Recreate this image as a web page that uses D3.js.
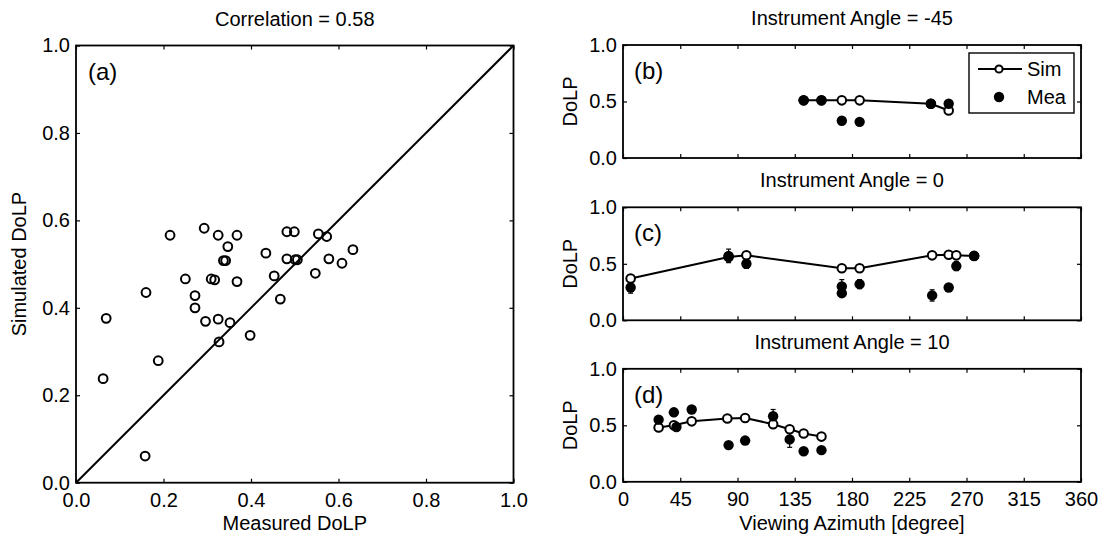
<!DOCTYPE html>
<html>
<head>
<meta charset="utf-8">
<script src="https://cdn.jsdelivr.net/npm/d3@7"></script>
<style>
  body { margin: 0; background: #fff; }
  svg { font-family: "Liberation Sans", Arial, sans-serif; }
</style>
</head>
<body>
<svg id="chart" width="1102" height="534"></svg>
<script>
// scatter (a): measured vs simulated DoLP
var measured = [0.215,0.293,0.325,0.368,0.347,0.337,0.342,0.250,0.309,0.317,0.368,0.160,0.272,0.272,0.069,0.296,0.325,0.352,0.327,0.398,0.434,0.453,0.467,0.482,0.499,0.482,0.501,0.506,0.554,0.573,0.547,0.578,0.608,0.633,0.062,0.188,0.158];
var simulated = [0.566,0.582,0.566,0.566,0.540,0.508,0.508,0.466,0.466,0.464,0.460,0.435,0.428,0.400,0.376,0.369,0.374,0.366,0.322,0.337,0.525,0.473,0.420,0.574,0.574,0.512,0.510,0.510,0.569,0.563,0.479,0.512,0.502,0.533,0.238,0.279,0.061];
var dolpTicks = [0, 0.2, 0.4, 0.6, 0.8, 1.0];

// panels (b)-(d): DoLP vs viewing azimuth
var panelTitles = ["Instrument Angle = -45", "Instrument Angle = 0", "Instrument Angle = 10"];
var panelLetters = ["(b)", "(c)", "(d)"];

var simAzB = [142, 156, 172, 186, 242, 256];
var simB   = [0.51, 0.51, 0.51, 0.51, 0.48, 0.42];
var meaAzB = [142, 156, 172, 186, 242, 256];
var meaB   = [0.51, 0.51, 0.33, 0.32, 0.48, 0.48];
var errB   = [0.01, 0.01, 0.01, 0.01, 0.02, 0.01];

var simAzC = [6, 83, 97, 172, 186, 243, 256, 262, 276];
var simC   = [0.37, 0.56, 0.575, 0.46, 0.46, 0.575, 0.58, 0.575, 0.57];
var meaAzC = [6, 83, 97, 172, 172, 186, 243, 256, 262, 276];
var meaC   = [0.29, 0.57, 0.50, 0.30, 0.24, 0.32, 0.22, 0.29, 0.48, 0.57];
var errC   = [0.05, 0.06, 0.04, 0.06, 0.03, 0.04, 0.05, 0.02, 0.04, 0.02];

var simAzD = [28, 40, 54, 82, 96, 118, 131, 142, 156];
var simD   = [0.48, 0.50, 0.535, 0.56, 0.565, 0.51, 0.465, 0.427, 0.40];
var meaAzD = [28, 40, 42, 54, 83, 96, 118, 131, 142, 156];
var meaD   = [0.55, 0.615, 0.485, 0.64, 0.325, 0.365, 0.58, 0.375, 0.27, 0.28];
var errD   = [0.02, 0.02, 0.03, 0.02, 0.02, 0.02, 0.06, 0.07, 0.02, 0.02];

var azTicks = [0, 45, 90, 135, 180, 225, 270, 315, 360];
var panelYTicks = [0, 0.5, 1.0];

var svg = d3.select("#chart");
var fs = 20;

function styleAxis(g) {
  g.select(".domain").remove();
  g.selectAll("line").attr("stroke", "#000").attr("stroke-width", 1.2);
  g.selectAll("text").attr("font-size", fs).attr("font-family", null).attr("fill", "#000");
  g.attr("font-family", null);
}

function box(g, w, h) {
  g.append("rect").attr("x", 0).attr("y", 0).attr("width", w).attr("height", h)
    .attr("fill", "none").attr("stroke", "#000").attr("stroke-width", 1.8);
}

// ---------- panel (a) ----------
var aL = 76, aT = 45.5, aW = 437.5, aH = 437.2;
var ax = d3.scaleLinear().domain([0, 1]).range([0, aW]);
var ay = d3.scaleLinear().domain([0, 1]).range([aH, 0]);
var ga = svg.append("g").attr("transform", "translate(" + aL + "," + aT + ")");

ga.append("g").attr("transform", "translate(0," + aH + ")")
  .call(d3.axisBottom(ax).tickValues(dolpTicks).tickFormat(d3.format(".1f")).tickSizeInner(-4).tickSizeOuter(0).tickPadding(10))
  .call(styleAxis);
ga.append("g")
  .call(d3.axisLeft(ay).tickValues(dolpTicks).tickFormat(d3.format(".1f")).tickSizeInner(-4).tickSizeOuter(0).tickPadding(6))
  .call(styleAxis);
ga.append("g")
  .call(d3.axisTop(ax).tickValues(dolpTicks).tickFormat("").tickSizeInner(-4).tickSizeOuter(0))
  .call(styleAxis);
ga.append("g").attr("transform", "translate(" + aW + ",0)")
  .call(d3.axisRight(ay).tickValues(dolpTicks).tickFormat("").tickSizeInner(-4).tickSizeOuter(0))
  .call(styleAxis);

ga.append("line")
  .attr("x1", ax(0)).attr("y1", ay(0)).attr("x2", ax(1)).attr("y2", ay(1))
  .attr("stroke", "#000").attr("stroke-width", 2);

ga.selectAll("circle.pt").data(d3.range(measured.length)).enter()
  .append("circle").attr("class", "pt")
  .attr("cx", function(i) { return ax(measured[i]); })
  .attr("cy", function(i) { return ay(simulated[i]); })
  .attr("r", 4.4)
  .attr("fill", "none").attr("stroke", "#000").attr("stroke-width", 2);

box(ga, aW, aH);

ga.append("text").attr("x", aW / 2).attr("y", -20).attr("text-anchor", "middle")
  .attr("font-size", fs).text("Correlation = 0.58");
ga.append("text").attr("x", 12).attr("y", 34).attr("font-size", 24).text("(a)");
ga.append("text").attr("x", aW / 2).attr("y", 483 - aT + 47).attr("text-anchor", "middle")
  .attr("font-size", fs).text("Measured DoLP");
svg.append("text").attr("transform", "translate(26," + (aT + aH / 2) + ") rotate(-90)")
  .attr("text-anchor", "middle").attr("font-size", fs).text("Simulated DoLP");

// ---------- panels (b)-(d) ----------
var pL = 623, pW = 458;
var panelTops = [45, 207.3, 368.8];
var pH = 113;
var px = d3.scaleLinear().domain([0, 360]).range([0, pW]);

var panels = [
  { simAz: simAzB, sim: simB, meaAz: meaAzB, mea: meaB, err: errB },
  { simAz: simAzC, sim: simC, meaAz: meaAzC, mea: meaC, err: errC },
  { simAz: simAzD, sim: simD, meaAz: meaAzD, mea: meaD, err: errD }
];

panels.forEach(function(p, k) {
  var py = d3.scaleLinear().domain([0, 1]).range([pH, 0]);
  var g = svg.append("g").attr("transform", "translate(" + pL + "," + panelTops[k] + ")");

  var bottom = d3.axisBottom(px).tickValues(azTicks).tickSizeInner(-4).tickSizeOuter(0).tickPadding(10);
  if (k < 2) bottom.tickFormat("");
  g.append("g").attr("transform", "translate(0," + pH + ")").call(bottom).call(styleAxis);
  g.append("g")
    .call(d3.axisLeft(py).tickValues(panelYTicks).tickFormat(d3.format(".1f")).tickSizeInner(-4).tickSizeOuter(0).tickPadding(6))
    .call(styleAxis);
  g.append("g")
    .call(d3.axisTop(px).tickValues(azTicks).tickFormat("").tickSizeInner(-4).tickSizeOuter(0))
    .call(styleAxis);
  g.append("g").attr("transform", "translate(" + pW + ",0)")
    .call(d3.axisRight(py).tickValues(panelYTicks).tickFormat("").tickSizeInner(-4).tickSizeOuter(0))
    .call(styleAxis);

  // error bars
  var eb = g.append("g").attr("stroke", "#000").attr("stroke-width", 1.2);
  p.meaAz.forEach(function(a, i) {
    var x = px(a), y0 = py(p.mea[i] - p.err[i]), y1 = py(p.mea[i] + p.err[i]);
    eb.append("line").attr("x1", x).attr("x2", x).attr("y1", y0).attr("y2", y1);
    eb.append("line").attr("x1", x - 2.5).attr("x2", x + 2.5).attr("y1", y0).attr("y2", y0);
    eb.append("line").attr("x1", x - 2.5).attr("x2", x + 2.5).attr("y1", y1).attr("y2", y1);
  });

  var line = d3.line()
    .x(function(i) { return px(p.simAz[i]); })
    .y(function(i) { return py(p.sim[i]); });
  g.append("path").datum(d3.range(p.simAz.length)).attr("d", line)
    .attr("fill", "none").attr("stroke", "#000").attr("stroke-width", 2);

  g.selectAll("circle.sim").data(d3.range(p.simAz.length)).enter()
    .append("circle").attr("class", "sim")
    .attr("cx", function(i) { return px(p.simAz[i]); })
    .attr("cy", function(i) { return py(p.sim[i]); })
    .attr("r", 4.3).attr("fill", "#fff").attr("stroke", "#000").attr("stroke-width", 2);

  g.selectAll("circle.mea").data(d3.range(p.meaAz.length)).enter()
    .append("circle").attr("class", "mea")
    .attr("cx", function(i) { return px(p.meaAz[i]); })
    .attr("cy", function(i) { return py(p.mea[i]); })
    .attr("r", 5.2).attr("fill", "#000");

  box(g, pW, pH);

  g.append("text").attr("x", pW / 2).attr("y", -20).attr("text-anchor", "middle")
    .attr("font-size", fs).text(panelTitles[k]);
  g.append("text").attr("x", 11).attr("y", 34).attr("font-size", 24).text(panelLetters[k]);
  svg.append("text").attr("transform", "translate(577," + (panelTops[k] + pH / 2) + ") rotate(-90)")
    .attr("text-anchor", "middle").attr("font-size", fs).text("DoLP");
});

svg.append("text").attr("x", pL + pW / 2).attr("y", 530).attr("text-anchor", "middle")
  .attr("font-size", fs).text("Viewing Azimuth [degree]");

// legend
var lg = svg.append("g").attr("transform", "translate(969,53)");
lg.append("rect").attr("width", 105).attr("height", 60)
  .attr("fill", "#fff").attr("stroke", "#000").attr("stroke-width", 1.4);
lg.append("line").attr("x1", 9).attr("x2", 53).attr("y1", 16).attr("y2", 16)
  .attr("stroke", "#000").attr("stroke-width", 2);
lg.append("circle").attr("cx", 30).attr("cy", 16).attr("r", 3.6)
  .attr("fill", "#fff").attr("stroke", "#000").attr("stroke-width", 2);
lg.append("text").attr("x", 58).attr("y", 23).attr("font-size", fs).text("Sim");
lg.append("circle").attr("cx", 30).attr("cy", 44).attr("r", 5.2).attr("fill", "#000");
lg.append("text").attr("x", 58).attr("y", 51).attr("font-size", fs).text("Mea");
</script>
</body>
</html>
